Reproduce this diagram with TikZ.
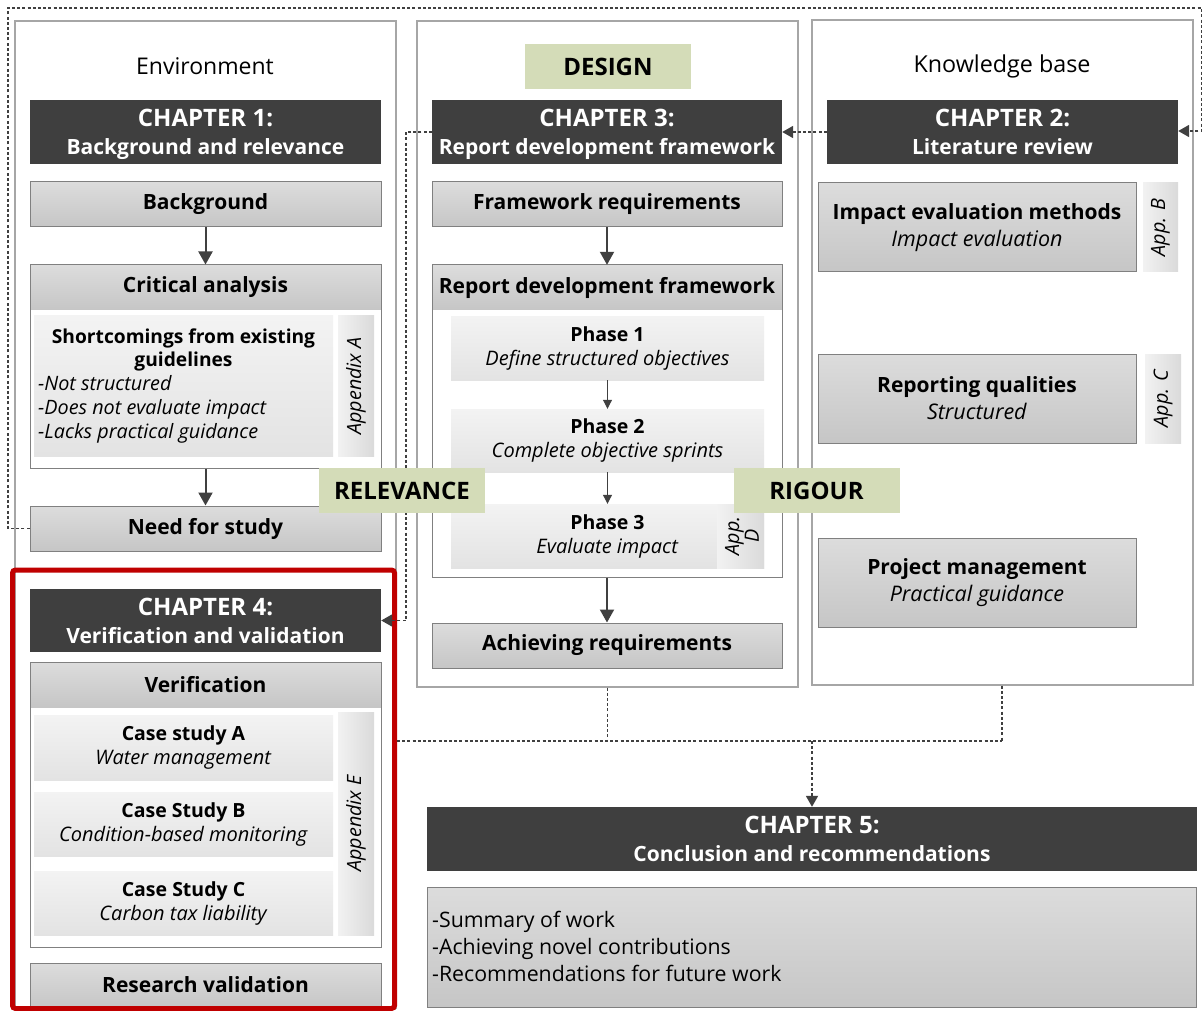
\documentclass[tikz,border=0pt]{standalone}
\usepackage{fontspec}
\setmainfont{Open Sans}
\usetikzlibrary{arrows.meta}
\definecolor{hdr}{HTML}{3F3F3F}
\definecolor{frm}{HTML}{A6A6A6}
\definecolor{bline}{HTML}{808080}
\definecolor{gtop}{HTML}{DCDCDC}
\definecolor{gbot}{HTML}{C6C6C6}
\definecolor{ltop}{HTML}{F3F3F3}
\definecolor{lbot}{HTML}{E3E3E3}
\definecolor{stl}{HTML}{F2F2F2}
\definecolor{str}{HTML}{DADADA}
\definecolor{sage}{HTML}{D4DCB8}
\definecolor{arr}{HTML}{404040}
\definecolor{redframe}{HTML}{C00000}
% chapter header: two lines with fixed struts so every header sits alike
\newcommand{\chaptext}[2]{\rule{0pt}{23pt}#1\\\fontsize{21}{28}\selectfont #2\rule[-5.8pt]{0pt}{0pt}}
% bold title inside boxes
\newcommand{\btitle}[1]{{\bfseries #1}}
\begin{document}
\begin{tikzpicture}[x=1pt,y=-1pt,
  column/.style={draw=frm, line width=1.3pt, minimum width=381pt, inner sep=0pt},
  chap/.style={fill=hdr, text=white, minimum width=351pt, minimum height=64pt, inner sep=0pt, align=center, font=\bfseries\fontsize{24}{28}\selectfont},
  graybox/.style={draw=bline, line width=1pt, top color=gtop, bottom color=gbot, minimum width=351pt, minimum height=45pt, inner sep=0pt, font=\bfseries\fontsize{21}{24}\selectfont, align=center},
  twoline/.style={graybox, minimum width=318pt, minimum height=89pt, font=\fontsize{21.5}{27}\selectfont},
  band/.style={top color=gtop, bottom color=gbot, minimum width=351pt, minimum height=45pt, inner sep=0pt, font=\bfseries\fontsize{21}{24}\selectfont},
  holder/.style={draw=bline, line width=1pt, minimum width=351pt, inner sep=0pt},
  lightbox/.style={top color=ltop, bottom color=lbot, inner sep=0pt, align=center, font=\fontsize{20}{24}\selectfont},
  strip/.style={left color=stl, right color=str, inner sep=0pt},
  striptext/.style={rotate=90, font=\itshape\fontsize{19.7}{20}\selectfont, align=center},
  tag/.style={fill=sage, minimum width=166pt, minimum height=45pt, inner sep=0pt, font=\bfseries\fontsize{24}{26}\selectfont},
  flow/.style={draw=arr, line width=2pt, -{Triangle[length=13pt,width=14pt]}},
  thinflow/.style={draw=arr, line width=1pt, -{Triangle[length=9pt,width=9pt]}},
  dots/.style={draw=arr, line width=1.8pt, dash pattern=on 3pt off 2.2pt},
  dotarrow/.style={dots, -{Triangle[length=11pt,width=12pt]}}
]
\useasboundingbox (0,0) rectangle (1203,1011);
\fill[white] (0,0) rectangle (1203,1011);

% three column frames
\node[column, minimum height=987pt] (envcol) at (205.5,514.5) {};
\node[column, minimum height=666pt] (descol) at (607.5,354) {};
\node[column, minimum height=665pt] (kbcol) at (1002.5,352.5) {};

\node[font=\fontsize{23}{26}\selectfont] (envtitle) at (205,66) {Environment};
\node[font=\fontsize{23.3}{26}\selectfont] (kbtitle) at (1002,66) {Knowledge base};
\node[tag] (design) at (608,66.5) {DESIGN};

% chapter headers
\node[chap] (ch1) at (205.5,132) {\chaptext{CHAPTER 1:}{Background and relevance}};
\node[chap, minimum width=350pt] (ch3) at (607,132) {\chaptext{CHAPTER 3:}{Report development framework}};
\node[chap] (ch2) at (1002.5,132) {\chaptext{CHAPTER 2:}{Literature review}};

% environment column
\node[graybox] (bg) at (205.5,204.5) {Background};
\node[band] (critH) at (205.5,287.5) {Critical analysis};
\node[holder, minimum height=203pt] (crit) at (205.5,366.5) {};
\node[lightbox, minimum width=299pt, minimum height=140pt] (short) at (183.5,386) {};
\node[font=\bfseries\fontsize{19.2}{23}\selectfont, align=center] (shortT) at (183.5,349.5) {Shortcomings from existing\\guidelines};
\node[font=\itshape\fontsize{19.8}{24}\selectfont, align=left, anchor=west, inner sep=0pt] (shortL) at (38,409) {-Not structured\\-Does not evaluate impact\\-Lacks practical guidance};
\node[strip, minimum width=36pt, minimum height=140pt] (appA) at (356,386) {};
\node[striptext] (appAT) at (356,386) {Appendix A};
\node[graybox] (need) at (205.5,528.5) {Need for study};

% design column
\node[graybox, minimum width=350pt] (fr) at (607,204.5) {Framework requirements};
\node[band, minimum width=350pt] (rdfH) at (607,287.5) {Report development framework};
\node[holder, minimum width=350pt, minimum height=312pt] (rdf) at (607,421) {};
\node[lightbox, minimum width=313pt, minimum height=63pt] (p1) at (607.5,348.5) {\fontsize{19.5}{24}\selectfont\btitle{Phase 1}\\\textit{Define structured objectives}};
\node[lightbox, minimum width=313pt, minimum height=63pt] (p2) at (607.5,440.5) {\fontsize{19.5}{24}\selectfont\btitle{Phase 2}\\\textit{Complete objective sprints}};
\node[lightbox, minimum width=313pt, minimum height=64pt] (p3) at (607.5,536) {\fontsize{19.5}{24}\selectfont\btitle{Phase 3}\\\textit{Evaluate impact}};
\node[strip, minimum width=47pt, minimum height=64pt] (appD) at (740.5,536) {};
\node[striptext, font=\itshape\fontsize{19.7}{17}\selectfont] (appDT) at (742,536) {App.\\D};
\node[graybox, minimum width=350pt] (ach) at (607,645.5) {Achieving requirements};

% knowledge base column
\node[twoline] (iem) at (977,227.5) {\fontsize{21}{27}\selectfont\btitle{Impact evaluation methods}\\\textit{Impact evaluation}};
\node[strip, minimum width=35pt, minimum height=89pt] (appB) at (1160.5,227.5) {};
\node[striptext] (appBT) at (1160.5,227.5) {App. B};
\node[twoline] (rq) at (977,398.5) {\fontsize{21}{27}\selectfont\btitle{Reporting qualities}\\\textit{Structured}};
\node[strip, minimum width=36pt, minimum height=89pt] (appC) at (1163,398.5) {};
\node[striptext] (appCT) at (1163,398.5) {App. C};
\node[twoline] (pm) at (977,582.5) {\fontsize{21}{27}\selectfont\btitle{Project management}\\\textit{Practical guidance}};

% chapter 4
\node[chap, minimum height=63pt] (ch4) at (205.5,620.5) {\chaptext{CHAPTER 4:}{Verification and validation}};
\node[band] (verH) at (205.5,684.5) {Verification};
\node[holder, minimum height=285pt] (ver) at (205.5,804.5) {};
\node[lightbox, minimum width=299pt, minimum height=65pt] (csA) at (183.5,747.5) {\fontsize{19.5}{24}\selectfont\btitle{Case study A}\\\textit{Water management}};
\node[lightbox, minimum width=299pt, minimum height=64pt] (csB) at (183.5,824) {\fontsize{19.5}{24}\selectfont\btitle{Case Study B}\\\textit{Condition-based monitoring}};
\node[lightbox, minimum width=299pt, minimum height=64pt] (csC) at (183.5,903) {\fontsize{19.5}{24}\selectfont\btitle{Case Study C}\\\textit{Carbon tax liability}};
\node[strip, minimum width=36pt, minimum height=223pt] (appE) at (356,823.5) {};
\node[striptext] (appET) at (356,823.5) {Appendix E};
\node[graybox, minimum height=44pt] (rv) at (205.5,985) {Research validation};
\node[draw=redframe, line width=5pt, rounded corners=3pt, minimum width=382pt, minimum height=438.5pt, inner sep=0pt] (red) at (203.5,789.25) {};

% chapter 5
\node[chap, minimum width=770pt] (ch5) at (812,839) {\chaptext{CHAPTER 5:}{Conclusion and recommendations}};
\node[graybox, minimum width=769pt, minimum height=120pt] (sum) at (811.5,947) {};
\node[font=\fontsize{21.3}{27}\selectfont, align=left, anchor=west, inner sep=0pt] (sumT) at (432,946) {-Summary of work\\-Achieving novel contributions\\-Recommendations for future work};

% solid flow arrows
\draw[flow] (bg.south) -- (crit.north);
\draw[flow] (crit.south) -- (need.north);
\draw[flow] (fr.south) -- (rdfH.north);
\draw[thinflow] (p1.south) -- (p2.north);
\draw[thinflow] (p2.south) -- (p3.north);
\draw[flow] (rdf.south) -- (ach.north);

% dotted links between chapters
\coordinate (loopA) at (8,528.5);
\coordinate (loopB) at (8,8);
\coordinate (loopC) at (1201.5,8);
\coordinate (loopD) at (1201.5,131);
\draw[dotarrow] (need.west) -- (loopA) -- (loopB) -- (loopC) -- (loopD) -- (ch2.east |- loopD);
\draw[dotarrow] (ch2.west) -- (ch3.east);
\coordinate (dropA) at (406,132);
\coordinate (dropB) at (406,620.5);
\draw[dotarrow] (ch3.west) -- (dropA) -- (dropB) -- (ch4.east);
\coordinate (joinL) at (607.5,741);
\coordinate (joinR) at (1002,741);
\coordinate (joinM) at (812,741);
\draw[dots] (descol.south) -- (joinL);
\draw[dots] (kbcol.south -| joinR) -- (joinR);
\draw[dots] (red.east |- joinL) -- (joinR);
\draw[dotarrow] (joinM) -- (ch5.north);

% sage tags over the columns
\node[tag] (relevance) at (402,490.5) {RELEVANCE};
\node[tag] (rigour) at (816.5,490.5) {RIGOUR};
\end{tikzpicture}
\end{document}
